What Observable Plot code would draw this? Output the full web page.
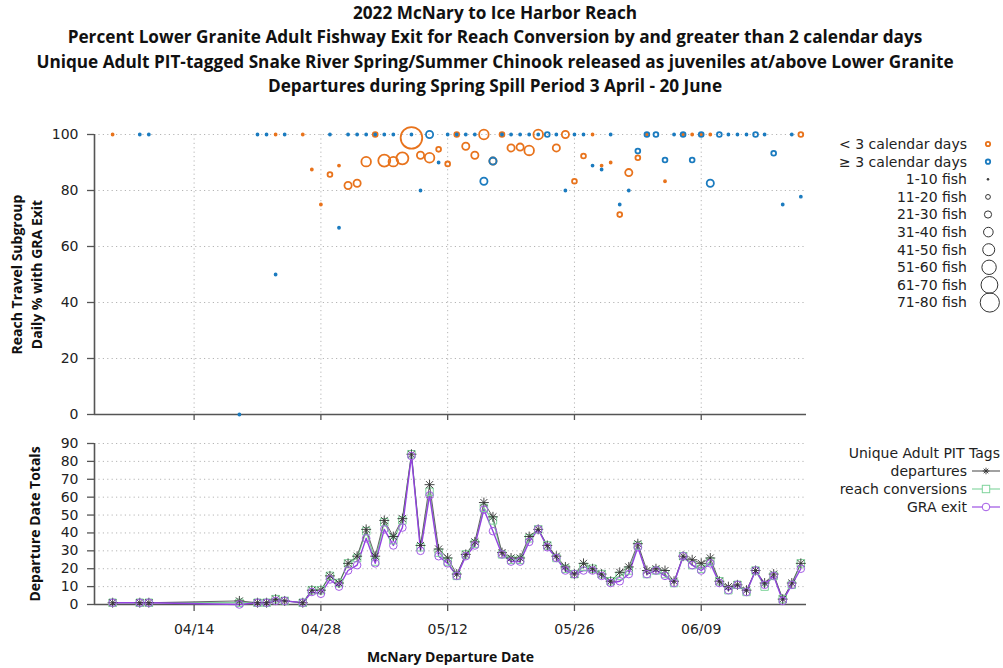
<!DOCTYPE html>
<html><head><meta charset="utf-8">
<script src="https://cdn.jsdelivr.net/npm/d3@7"></script>
<script src="https://cdn.jsdelivr.net/npm/@observablehq/plot@0.6"></script>
<style>
body{margin:0;background:#fff;}
#wrap{position:relative;width:1003px;height:668px;overflow:hidden;font-family:"DejaVu Sans",sans-serif;}
#title{position:absolute;left:0;top:1px;width:990px;text-align:center;font-family:"Open Sans","Noto Sans",sans-serif;font-weight:700;font-size:17.2px;line-height:24.3px;color:#111;}
#top{position:absolute;left:0;top:120px;}
#bot{position:absolute;left:0;top:430px;}
#overlay{position:absolute;left:0;top:0;}
</style></head><body>
<div id="wrap">
<div id="title">2022 McNary to Ice Harbor Reach<br>Percent Lower Granite Adult Fishway Exit for Reach Conversion by and greater than 2 calendar days<br>Unique Adult PIT-tagged Snake River Spring/Summer Chinook released as juveniles at/above Lower Granite<br>Departures during Spring Spill Period 3 April - 20 June</div>
<div id="top"></div>
<div id="bot"></div>
<svg id="overlay" width="1003" height="668"></svg>
</div>
<script>
// ---- data: top panel, "< 3 calendar days" subgroup ----
const ltDates = ["04-05","04-23","04-26","04-27","04-28","04-29","04-30","05-01","05-02","05-03","05-04","05-05","05-06","05-07","05-08","05-09","05-10","05-11","05-12","05-13","05-14","05-15","05-16","05-17","05-18","05-19","05-20","05-21","05-22","05-24","05-25","05-26","05-27","05-28","05-29","05-30","05-31","06-01","06-02","06-03","06-05","06-07","06-08","06-09","06-10","06-20"];
const ltPct = [100,100,100,87.5,75,85.7,88.9,81.8,82.6,90.3,100,90.7,90.3,91.5,98.8,92.6,91.7,94.7,89.5,100,95.8,92.6,100,90.5,100,95.2,95.5,94.3,100,95.2,100,83.3,92.3,100,88.9,90,71.4,86.4,91.7,100,83.3,100,100,100,100,100];
const ltFish = [1,1,2,8,8,14,9,22,23,31,12,43,31,47,82,27,36,19,19,14,24,27,35,21,15,21,22,35,32,21,22,12,13,3,9,10,14,22,12,4,6,3,2,5,4,14];
// ---- data: top panel, ">= 3 calendar days" subgroup ----
const geDates = ["04-08","04-09","04-19","04-21","04-22","04-23","04-24","04-29","04-30","05-01","05-02","05-03","05-04","05-05","05-06","05-08","05-09","05-10","05-11","05-12","05-13","05-14","05-15","05-16","05-17","05-18","05-19","05-20","05-21","05-22","05-23","05-24","05-25","05-26","05-27","05-28","05-29","05-30","05-31","06-01","06-02","06-03","06-04","06-05","06-06","06-07","06-08","06-09","06-10","06-11","06-12","06-13","06-14","06-15","06-16","06-17","06-18","06-19","06-20"];
const gePct = [100,100,0,100,100,50,100,100,66.7,100,100,100,100,100,100,100,80,100,90,100,100,100,100,83.3,90.5,100,100,100,100,100,100,100,80,100,100,88.9,87.5,100,75,80,94.1,100,100,90.9,100,100,90.9,100,82.6,100,100,100,100,100,100,93.3,75,100,77.8];
const geFish = [1,1,1,1,1,2,2,2,3,1,3,9,9,3,5,2,5,25,10,5,2,4,7,24,21,8,4,3,3,2,13,3,5,3,4,9,8,3,4,5,17,14,12,11,4,12,11,14,23,13,3,3,5,12,4,15,4,6,9];
// ---- data: bottom panel ----
const botDates = ["04-05","04-08","04-09","04-19","04-21","04-22","04-23","04-24","04-26","04-27","04-28","04-29","04-30",
 "05-01","05-02","05-03","05-04","05-05","05-06","05-07","05-08","05-09","05-10","05-11","05-12","05-13","05-14","05-15","05-16","05-17","05-18","05-19","05-20","05-21","05-22","05-23","05-24","05-25","05-26","05-27","05-28","05-29","05-30","05-31",
 "06-01","06-02","06-03","06-04","06-05","06-06","06-07","06-08","06-09","06-10","06-11","06-12","06-13","06-14","06-15","06-16","06-17","06-18","06-19","06-20"];
const departures = [1,1,1,2,1,1,3,2,1,8,8,16,12,
 23,27,42,27,47,38,48,84,33,67,31,26,17,28,35,57,49,29,26,26,38,42,33,27,21,17,23,20,17,13,18,
 21,34,19,20,19,13,27,25,23,26,13,10,11,8,19,12,17,3,12,23];
const conversions = [1,1,1,1,1,1,3,2,1,8,8,16,12,
 23,26,41,24,46,36,47,84,32,63,29,24,16,28,34,54,47,28,25,25,37,42,33,26,20,17,21,20,17,13,16,
 19,33,17,19,17,12,27,22,20,24,13,8,11,7,19,10,16,3,11,23];
const graExit = [1,1,1,0,1,1,2,2,1,7,6,14,10,
 19,22,37,23,42,33,43,83,30,61,27,23,16,27,33,53,41,28,24,24,35,42,32,26,19,17,19,19,16,12,13,
 17,32,17,19,16,12,27,22,19,23,12,8,11,7,19,11,16,2,11,20];
// ---- ticks and labels ----
const xTickDates = ["04-14","04-28","05-12","05-26","06-09"];
const yTicksTop = [0,20,40,60,80,100];
const yTicksBot = [0,10,20,30,40,50,60,70,80,90];
const groupLabels = ["< 3 calendar days","\u2265 3 calendar days"];
const sizeLabels = ["1-10 fish","11-20 fish","21-30 fish","31-40 fish","41-50 fish","51-60 fish","61-70 fish","71-80 fish"];
const seriesLabels = ["departures","reach conversions","GRA exit"];

const parse = s => d3.utcParse("%Y-%m-%d")("2022-" + s);
const xDomain = [new Date(Date.UTC(2022,3,3,0)), new Date(Date.UTC(2022,5,20,15))];
const xTicks = xTickDates.map(parse);
const ORANGE = "#e8731c", BLUE = "#1b7bbf", GREEN = "#7fd49b", PURPLE = "#9442e0", DARK = "#333";
const AX = "#555";
const bin = n => Math.ceil(n / 10);
const rScale = {type: "linear", domain: [0, 9], range: [0, 10.8]};

const lt = ltDates.map((d, i) => ({date: parse(d), pct: ltPct[i], n: ltFish[i]}));
const ge = geDates.map((d, i) => ({date: parse(d), pct: gePct[i], n: geFish[i]}));
const bot = botDates.map((d, i) => ({date: parse(d), dep: departures[i], conv: conversions[i], gra: graExit[i]}));

const font = {fontFamily: "DejaVu Sans, sans-serif", fontSize: "14px", color: "#222", background: "transparent", overflow: "visible"};
const grid = {stroke: "#b5b5b5", strokeOpacity: 1, strokeDasharray: "1.2,3.2", strokeWidth: 1};
const LBL = {fontFamily: "Open Sans, Noto Sans, sans-serif", fontWeight: "bold", fontSize: 14, fill: "#111", textAnchor: "middle", lineAnchor: "middle"};

const topPlot = Plot.plot({
  width: 1003, height: 304, marginLeft: 94, marginRight: 197, marginTop: 14, marginBottom: 10,
  style: font,
  x: {type: "utc", domain: xDomain},
  y: {domain: [0, 100]},
  r: rScale,
  marks: [
    Plot.gridY(yTicksTop, grid),
    Plot.gridX(xTicks, grid),
    Plot.axisY(yTicksTop, {tickSize: 7, tickPadding: 9, label: null, stroke: AX, strokeWidth: 1.3}),
    Plot.axisX(xTicks, {tickSize: 6, tickFormat: () => "", label: null, stroke: AX, strokeWidth: 1.3}),
    Plot.ruleY([0], {stroke: AX, strokeWidth: 1.6}),
    Plot.ruleX([xDomain[0]], {stroke: AX, strokeWidth: 1.6}),
    Plot.dot(lt, {filter: d => bin(d.n) === 1, x: "date", y: "pct", r: d => bin(d.n), fill: ORANGE, stroke: ORANGE, strokeWidth: 1.4}),
    Plot.dot(lt, {filter: d => bin(d.n) > 1, x: "date", y: "pct", r: d => bin(d.n), fill: "none", stroke: ORANGE, strokeWidth: 1.8}),
    Plot.dot(ge, {filter: d => bin(d.n) === 1, x: "date", y: "pct", r: d => bin(d.n), fill: BLUE, stroke: BLUE, strokeWidth: 1.4}),
    Plot.dot(ge, {filter: d => bin(d.n) > 1, x: "date", y: "pct", r: d => bin(d.n), fill: "none", stroke: BLUE, strokeWidth: 1.8}),
    Plot.text(["Reach Travel Subgroup"], {text: d => d, frameAnchor: "left", rotate: -90, dx: -77, ...LBL}),
    Plot.text(["Daily % with GRA Exit"], {text: d => d, frameAnchor: "left", rotate: -90, dx: -57, ...LBL})
  ]
});
document.getElementById("top").append(topPlot);

const botPlot = Plot.plot({
  width: 1003, height: 238, marginLeft: 94, marginRight: 197, marginTop: 13, marginBottom: 64,
  style: font,
  x: {type: "utc", domain: xDomain},
  y: {domain: [0, 90]},
  marks: [
    Plot.gridY(yTicksBot, grid),
    Plot.gridX(xTicks, grid),
    Plot.axisY(yTicksBot, {tickSize: 7, tickPadding: 9, label: null, stroke: AX, strokeWidth: 1.3}),
    Plot.axisX(xTicks, {tickSize: 7, tickPadding: 13, tickFormat: d3.utcFormat("%m/%d"), label: null, stroke: AX, strokeWidth: 1.3}),
    Plot.ruleY([0], {stroke: AX, strokeWidth: 1.6}),
    Plot.ruleX([xDomain[0]], {stroke: AX, strokeWidth: 1.6}),
    Plot.line(bot, {x: "date", y: "conv", stroke: GREEN, strokeWidth: 1.3}),
    Plot.line(bot, {x: "date", y: "dep", stroke: "#555", strokeWidth: 0.9}),
    Plot.line(bot, {x: "date", y: "gra", stroke: PURPLE, strokeWidth: 1.4}),
    Plot.dot(bot, {x: "date", y: "conv", symbol: "square", r: 4.2, fill: "none", stroke: GREEN, strokeWidth: 1}),
    Plot.dot(bot, {x: "date", y: "dep", symbol: "plus", r: 3.3, stroke: DARK, strokeWidth: 0.9}),
    Plot.dot(bot, {x: "date", y: "dep", symbol: "times", r: 3.3, stroke: DARK, strokeWidth: 0.9}),
    Plot.dot(bot, {x: "date", y: "gra", symbol: "circle", r: 3.8, fill: "none", stroke: "#a45be6", strokeWidth: 1}),
    Plot.text(["Departure Date Totals"], {text: d => d, frameAnchor: "left", rotate: -90, dx: -59, ...LBL}),
    Plot.text(["McNary Departure Date"], {text: d => d, frameAnchor: "bottom", dy: 53, ...LBL})
  ]
});
document.getElementById("bot").append(botPlot);

// ---- legends ----
const ov = d3.select("#overlay");
const lf = "DejaVu Sans, sans-serif";
const topRows = [144, 161.7, 179.3, 196.9, 214.5, 232.1, 249.7, 267.3, 284.9, 302.5];
const symX = 988;
const rPx = b => b * 1.2;
groupLabels.forEach((t, i) => {
  ov.append("text").attr("x", 967).attr("y", topRows[i]).attr("dy", "0.35em").attr("text-anchor", "end")
    .attr("font-family", lf).attr("font-size", 14).attr("fill", "#222").text(t);
  ov.append("circle").attr("cx", symX).attr("cy", topRows[i]).attr("r", 2.2)
    .attr("fill", "none").attr("stroke", i === 0 ? ORANGE : BLUE).attr("stroke-width", 1.8);
});
sizeLabels.forEach((t, i) => {
  const y = topRows[i + 2];
  ov.append("text").attr("x", 967).attr("y", y).attr("dy", "0.35em").attr("text-anchor", "end")
    .attr("font-family", lf).attr("font-size", 14).attr("fill", "#222").text(t);
  const b = i + 1;
  ov.append("circle").attr("cx", symX + (b > 3 ? (rPx(b) - 3.6) * 0.3 : 0)).attr("cy", y).attr("r", b === 1 ? 0.9 : rPx(b))
    .attr("fill", b === 1 ? "#333" : "none").attr("stroke", "#333").attr("stroke-width", 1);
});
ov.append("text").attr("x", 1000).attr("y", 453).attr("dy", "0.35em").attr("text-anchor", "end")
  .attr("font-family", lf).attr("font-size", 14).attr("fill", "#222").text("Unique Adult PIT Tags");
const botRows = [471, 489, 507];
const serColors = ["#555", GREEN, PURPLE];
seriesLabels.forEach((t, i) => {
  const y = botRows[i];
  ov.append("text").attr("x", 967).attr("y", y).attr("dy", "0.35em").attr("text-anchor", "end")
    .attr("font-family", lf).attr("font-size", 14).attr("fill", "#222").text(t);
  ov.append("line").attr("x1", 972).attr("x2", 1000).attr("y1", y).attr("y2", y)
    .attr("stroke", serColors[i]).attr("stroke-width", 1.1);
  const cx = 986;
  if (i === 0) {
    const a = 3.3, b = 2.3;
    ov.append("path").attr("d", `M${cx-a},${y}H${cx+a}M${cx},${y-a}V${y+a}M${cx-b},${y-b}L${cx+b},${y+b}M${cx-b},${y+b}L${cx+b},${y-b}`)
      .attr("stroke", DARK).attr("stroke-width", 0.9).attr("fill", "none");
  } else if (i === 1) {
    ov.append("rect").attr("x", cx - 3.7).attr("y", y - 3.7).attr("width", 7.4).attr("height", 7.4)
      .attr("fill", "#fff").attr("stroke", GREEN).attr("stroke-width", 1);
  } else {
    ov.append("circle").attr("cx", cx).attr("cy", y).attr("r", 3.8)
      .attr("fill", "#fff").attr("stroke", "#a45be6").attr("stroke-width", 1);
  }
});
</script>
</body></html>
